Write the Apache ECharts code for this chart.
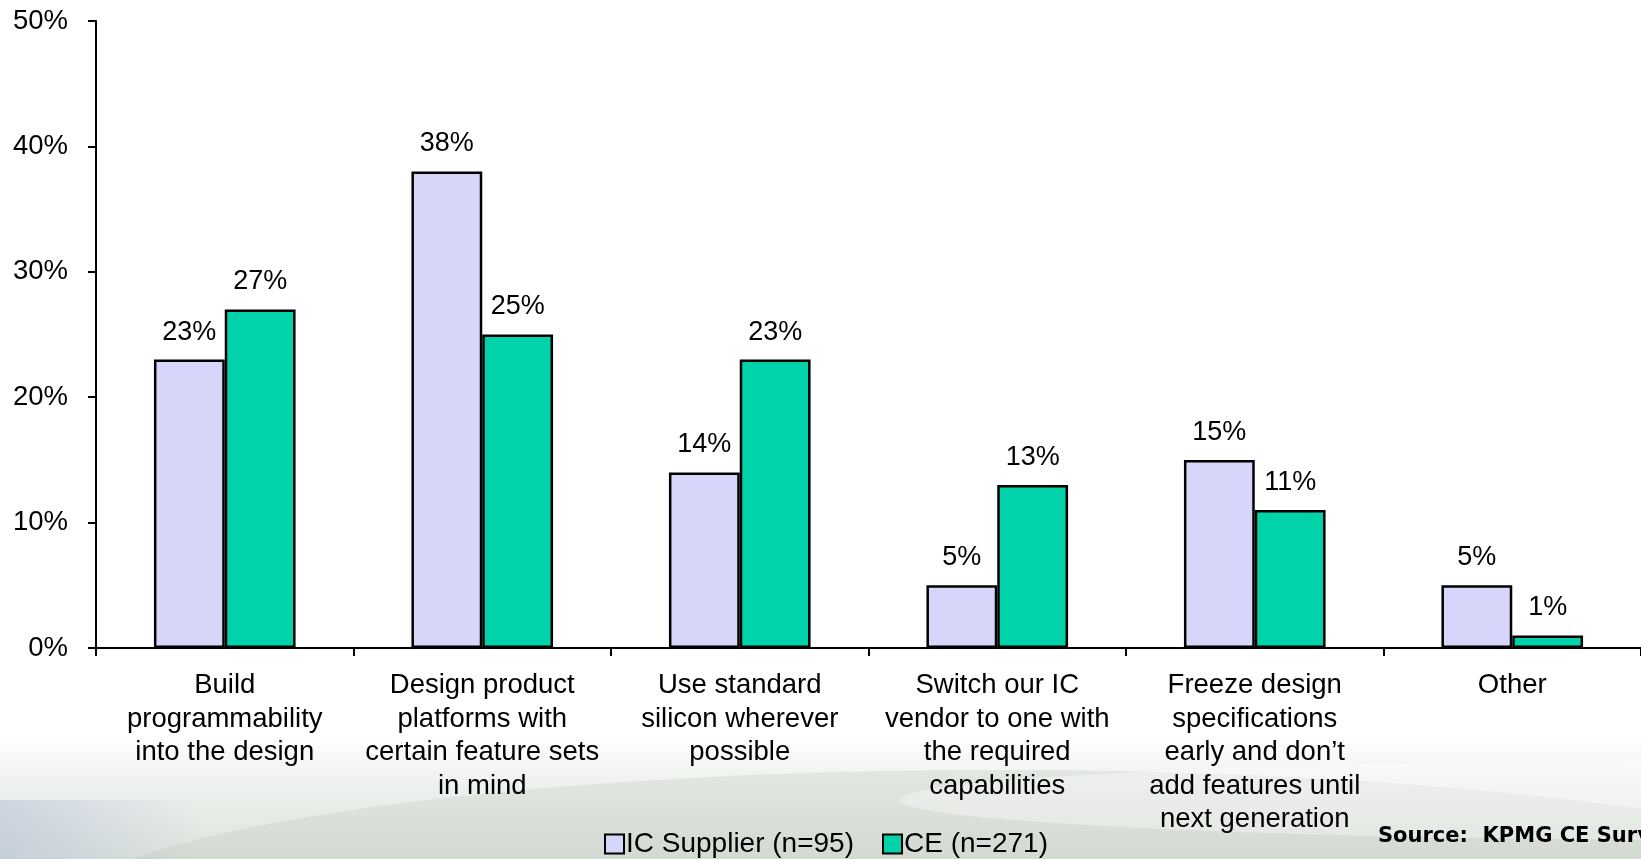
<!DOCTYPE html>
<html>
<head>
<meta charset="utf-8">
<script src="https://cdn.jsdelivr.net/npm/echarts@6/dist/echarts.min.js"></script>
<style>
html,body{margin:0;padding:0;background:#fff;}
#chart{width:1641px;height:859px;}
</style>
</head>
<body>
<div id="chart"></div>
<script>
const categories = [
  "Build\nprogrammability\ninto the design",
  "Design product\nplatforms with\ncertain feature sets\nin mind",
  "Use standard\nsilicon wherever\npossible",
  "Switch our IC\nvendor to one with\nthe required\ncapabilities",
  "Freeze design\nspecifications\nearly and don\u2019t\nadd features until\nnext generation",
  "Other"
];
const icSupplier = [23, 38, 14, 5, 15, 5];
const ce = [27, 25, 23, 13, 11, 1];
const seriesNames = ["IC Supplier (n=95)", "CE (n=271)"];
const yTicks = [0, 10, 20, 30, 40, 50];
const sourceText = "Source:  KPMG CE Survey";

const FONT = "Liberation Sans, Arial, sans-serif";
const FS = 27.5;
const chart = echarts.init(document.getElementById('chart'));
const labelCfg = {
  show: true, position: 'top', distance: 14,
  formatter: p => p.value + '%',
  fontFamily: FONT, fontSize: 27, color: '#000'
};
chart.setOption({
  backgroundColor: '#fff',
  animation: false,
  graphic: [
    {type: 'rect', z: -100, shape: {x: 0, y: 735, width: 1641, height: 124},
     style: {fill: new echarts.graphic.LinearGradient(0, 0, 0, 1, [
       {offset: 0, color: 'rgba(255,255,255,1)'},
       {offset: 0.3, color: '#f1f4f1'},
       {offset: 1, color: '#dde3dc'}])}},
    {type: 'ellipse', z: -99, shape: {cx: 1000, cy: 915, rx: 940, ry: 145},
     style: {fill: 'rgba(185,190,180,0.25)'}},
    {type: 'ellipse', z: -98, shape: {cx: 1750, cy: 800, rx: 850, ry: 40},
     style: {fill: 'rgba(255,255,255,0.35)'}},
    {type: 'rect', z: -97, shape: {x: 0, y: 800, width: 200, height: 59},
     style: {fill: new echarts.graphic.LinearGradient(0, 0, 1, 0, [
       {offset: 0, color: 'rgba(150,168,210,0.35)'},
       {offset: 1, color: 'rgba(150,168,210,0)'}])}},
    {type: 'text', left: 1378, top: 826, z: 10,
     style: {text: sourceText, font: 'bold 21px "DejaVu Sans", Verdana, sans-serif', fill: '#000'}}
  ],
  legend: {
    left: 604, top: 830, padding: 0,
    itemWidth: 19, itemHeight: 19, itemGap: 28,
    icon: 'rect',
    textStyle: {fontFamily: FONT, fontSize: 28, color: '#000', padding: [0, 0, 0, -3]},
    data: seriesNames
  },
  grid: {left: 96, right: -13, top: 21, bottom: 211, containLabel: false},
  xAxis: {
    type: 'category',
    data: categories,
    axisLine: {lineStyle: {color: '#000', width: 2}},
    axisTick: {show: true, length: 8, lineStyle: {color: '#000', width: 2}},
    axisLabel: {interval: 0, margin: 21, fontFamily: FONT, fontSize: FS, lineHeight: 33.5, color: '#000'}
  },
  yAxis: {
    type: 'value', min: yTicks[0], max: yTicks[yTicks.length - 1], interval: 10,
    axisLine: {show: true, lineStyle: {color: '#000', width: 2}},
    axisTick: {show: true, length: 8, lineStyle: {color: '#000', width: 2}},
    splitLine: {show: false},
    axisLabel: {formatter: '{value}%', margin: 28, fontFamily: FONT, fontSize: FS, color: '#000'}
  },
  series: [
    {name: seriesNames[0], type: 'bar', data: icSupplier, barWidth: '27.5%', barGap: '0%',
     itemStyle: {color: '#D6D6FA', borderColor: '#000', borderWidth: 2.5}, label: labelCfg},
    {name: seriesNames[1], type: 'bar', data: ce, barWidth: '27.5%', barGap: '0%',
     itemStyle: {color: '#00D2A9', borderColor: '#000', borderWidth: 2.5}, label: labelCfg}
  ]
});
</script>
</body>
</html>
